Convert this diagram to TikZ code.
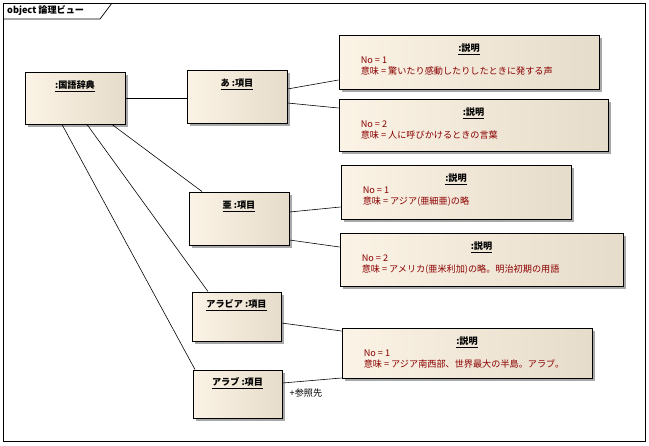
\documentclass[tikz,border=0pt]{standalone}
\usepackage{fontspec}
\setmainfont{Noto Sans CJK JP}
\usetikzlibrary{positioning,calc,shadows}
\definecolor{boxl}{HTML}{FBF3E5}
\definecolor{boxr}{HTML}{E6DCCB}
\definecolor{valred}{HTML}{8B0000}
\definecolor{shadegray}{HTML}{A8A8A8}

\begin{document}
\begin{tikzpicture}[x=0.03cm,y=-0.03cm,
  font=\fontsize{7.8}{9.6}\selectfont,
  obj/.style 2 args={draw=black,line width=0.8pt,left color=boxl,right color=boxr,
    minimum width=#1*0.03cm,minimum height=#2*0.03cm,inner sep=0pt,
    drop shadow={shadow xshift=0.09cm,shadow yshift=-0.09cm,fill=shadegray,opacity=1}},
  ttl/.style={font=\fontsize{7.8}{9.6}\selectfont\bfseries,inner sep=0pt},
  val/.style={text=valred,align=left,anchor=north west,inner sep=0pt},
  link/.style={line width=0.5pt}]

\useasboundingbox (0,0) rectangle (649,445);

% ---- frame ----
\draw[line width=0.8pt] (3,3) rectangle (645,441);
\draw[line width=0.6pt] (3,19) -- (100,19) -- (112,3);
\node[ttl,anchor=west] (hdr) at (7,11) {object 論理ビュー};

% ---- dictionary and items ----
\node[obj={100}{52}] (dict) at (75,98) {};
\node[ttl] (dictt) at ($(dict.north)+(0,15)$) {\underline{:国語辞典}};

\node[obj={100}{53}] (a) at (237,96.5) {};
\node[ttl] (at) at ($(a.north)+(0,15)$) {\underline{あ :項目}};

\node[obj={100}{53}] (ab) at (239,218.5) {};
\node[ttl] (abt) at ($(ab.north)+(0,15)$) {\underline{亜 :項目}};

\node[obj={89}{49}] (arabia) at (236.5,316.5) {};
\node[ttl] (arabiat) at ($(arabia.north)+(0,14)$) {\underline{アラビア :項目}};

\node[obj={89}{48}] (arab) at (237.5,394) {};
\node[ttl] (arabt) at ($(arab.north)+(0,14)$) {\underline{アラブ :項目}};

% ---- meanings ----
\node[obj={260}{54}] (d1) at (469,62) {};
\node[ttl] (d1t) at ($(d1.north)+(0,15)$) {\underline{:説明}};
\node[val] (d1v) at ($(d1.north west)+(22,22)$) {No = 1\\意味 = 驚いたり感動したりしたときに発する声};

\node[obj={269}{52}] (d2) at (473.5,125) {};
\node[ttl] (d2t) at ($(d2.north)+(0,15)$) {\underline{:説明}};
\node[val] (d2v) at ($(d2.north west)+(22,22)$) {No = 2\\意味 = 人に呼びかけるときの言葉};

\node[obj={230}{54}] (d3) at (456,192) {};
\node[ttl] (d3t) at ($(d3.north)+(0,15)$) {\underline{:説明}};
\node[val] (d3v) at ($(d3.north west)+(22,22)$) {No = 1\\意味 = アジア(亜細亜)の略};

\node[obj={283}{53}] (d4) at (481.5,259.5) {};
\node[ttl] (d4t) at ($(d4.north)+(0,15)$) {\underline{:説明}};
\node[val] (d4v) at ($(d4.north west)+(22,22)$) {No = 2\\意味 = アメリカ(亜米利加)の略。明治初期の用語};

\node[obj={250}{50}] (d5) at (467,353) {};
\node[ttl] (d5t) at ($(d5.north)+(0,15)$) {\underline{:説明}};
\node[val] (d5v) at ($(d5.north west)+(22,22)$) {No = 1\\意味 = アジア南西部、世界最大の半島。アラブ。};

% ---- links ----
\draw[link] (dict.east) -- (dict.east -| a.west);
\draw[link] ($(dict.south)+(37,0)$) -- ($(ab.north)+(-37,0)$);
\draw[link] ($(dict.south)+(12,0)$) -- ($(arabia.north)+(-28.5,0)$);
\draw[link] ($(dict.south)+(-13,0)$) -- ($(arab.north)+(-42.5,0)$);

\draw[link] ($(a.east)+(0,-7.5)$) -- ($(d1.west)+(0,18)$);
\draw[link] ($(a.east)+(0,6.5)$) -- ($(d2.west)+(0,-17)$);
\draw[link] ($(ab.east)+(0,-6.5)$) -- ($(d3.west)+(0,15)$);
\draw[link] ($(ab.east)+(0,21.5)$) -- ($(d4.west)+(0,-12.5)$);
\draw[link] ($(arabia.east)+(0,6.5)$) -- ($(d5.west)+(0,-22)$);
\draw[link] ($(arab.east)+(0,-11)$) -- ($(d5.west)+(0,25)$);
\node[anchor=west,inner sep=0pt] (ref) at ($(arab.east)+(7,-1)$) {+参照先};

\end{tikzpicture}
\end{document}
